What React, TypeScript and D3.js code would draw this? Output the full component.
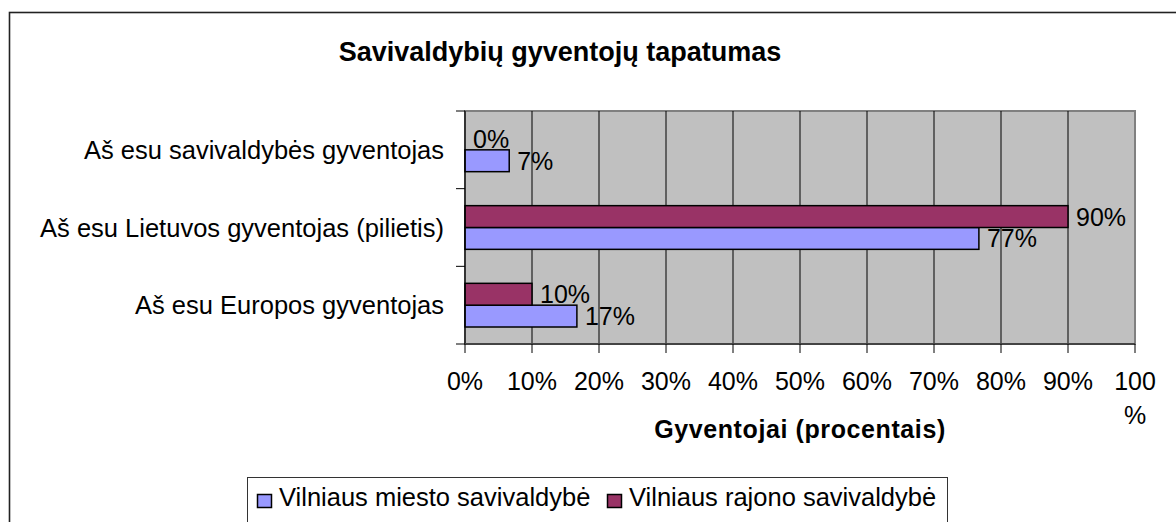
import React from "react";
import * as d3 from "d3";

const categories = [
  "Aš esu savivaldybės gyventojas",
  "Aš esu Lietuvos gyventojas (pilietis)",
  "Aš esu Europos gyventojas",
];
const seriesNames = ["Vilniaus miesto savivaldybė", "Vilniaus rajono savivaldybė"];
const miestoValues = [6.6, 76.7, 16.7];
const rajonoValues = [0, 90, 10];
const tickLabels = ["0%", "10%", "20%", "30%", "40%", "50%", "60%", "70%", "80%", "90%", "100 %"];
const title = "Savivaldybių gyventojų tapatumas";
const axisTitle = "Gyventojai (procentais)";

const colors: Record<string, string> = {
  "Vilniaus miesto savivaldybė": "#9999FF",
  "Vilniaus rajono savivaldybė": "#993366",
};

const FONT = "'Liberation Sans', Arial, sans-serif";

export default function App() {
  const W = 1176;
  const H = 522;
  const plot = { left: 465, right: 1135, top: 111, bottom: 344 };

  const x = d3.scaleLinear().domain([0, 100]).range([plot.left, plot.right]);
  const y = d3
    .scaleBand<string>()
    .domain(categories)
    .range([plot.top, plot.bottom])
    .paddingInner(0.4376)
    .paddingOuter(0.2188);
  // Excel order: second series on top within each group
  const sub = d3
    .scaleBand<string>()
    .domain([seriesNames[1], seriesNames[0]])
    .range([0, y.bandwidth()]);

  const seriesData: Record<string, number[]> = {
    [seriesNames[0]]: miestoValues,
    [seriesNames[1]]: rajonoValues,
  };

  const ticks = x.ticks(10);
  const step = y.step();
  const catTicks = d3.range(categories.length + 1).map((i) => plot.top + i * step);

  return (
    <svg
      width={W}
      height={H}
      style={{ position: "fixed", left: 0, top: 0, display: "block", background: "#fff" }}
      fontFamily={FONT}
    >
      <rect x={0} y={0} width={W} height={H} fill="#fff" />
      {/* outer chart frame */}
      <rect x={9.5} y={12.5} width={1300} height={700} fill="#fff" stroke="#222" strokeWidth={1.6} />

      <text x={560} y={61} textAnchor="middle" fontSize={27} fontWeight="bold" fill="#000">
        {title}
      </text>

      {/* plot area */}
      <rect
        x={plot.left}
        y={plot.top}
        width={plot.right - plot.left}
        height={plot.bottom - plot.top}
        fill="#C0C0C0"
        stroke="#808080"
        strokeWidth={2}
      />
      {ticks
        .filter((t) => t > 0 && t < 100)
        .map((t) => (
          <line key={"g" + t} x1={x(t)} x2={x(t)} y1={plot.top} y2={plot.bottom} stroke="#000" strokeWidth={1} />
        ))}

      {/* bars */}
      {categories.map((c, ci) =>
        seriesNames.map((s) => {
          const v = seriesData[s][ci];
          const by = (y(c) as number) + (sub(s) as number);
          const bh = sub.bandwidth();
          return (
            <g key={c + s}>
              <rect
                x={x(0)}
                y={by}
                width={Math.max(0, x(v) - x(0))}
                height={bh}
                fill={colors[s]}
                stroke="#000"
                strokeWidth={1.5}
              />
              <text
                x={x(v) + 8}
                y={by + bh / 2}
                dy="0.36em"
                fontSize={25}
                fill="#000"
              >
                {Math.round(v) + "%"}
              </text>
            </g>
          );
        })
      )}

      {/* axes */}
      <line x1={plot.left} x2={plot.left} y1={plot.top} y2={plot.bottom} stroke="#000" strokeWidth={1.2} />
      <line x1={plot.left} x2={plot.right} y1={plot.bottom} y2={plot.bottom} stroke="#444" strokeWidth={2} />
      {catTicks.map((ty, i) => (
        <line key={"ct" + i} x1={plot.left - 9} x2={plot.left} y1={ty} y2={ty} stroke="#000" strokeWidth={1} />
      ))}
      {ticks.map((t) => (
        <line key={"xt" + t} x1={x(t)} x2={x(t)} y1={plot.bottom} y2={plot.bottom + 9} stroke="#000" strokeWidth={1} />
      ))}
      {ticks.map((t, i) => {
        const lines = tickLabels[i].split(" ");
        return (
          <text key={"xl" + t} x={x(t)} y={390} textAnchor="middle" fontSize={25} fill="#000">
            {lines.map((l, li) => (
              <tspan key={li} x={x(t)} dy={li === 0 ? 0 : 34}>
                {l}
              </tspan>
            ))}
          </text>
        );
      })}

      {categories.map((c) => (
        <text
          key={"cl" + c}
          x={444}
          y={(y(c) as number) + y.bandwidth() / 2}
          dy="0.36em"
          textAnchor="end"
          fontSize={25.5}
          fill="#000"
        >
          {c}
        </text>
      ))}

      <text
        x={(plot.left + plot.right) / 2}
        y={438}
        textAnchor="middle"
        fontSize={25}
        letterSpacing={0.6}
        fontWeight="bold"
        fill="#000"
      >
        {axisTitle}
      </text>

      {/* legend */}
      <rect x={247.5} y={477.5} width={700} height={80} fill="#fff" stroke="#333" strokeWidth={1} />
      {seriesNames.map((s, i) => {
        const lx = i === 0 ? 257 : 607;
        return (
          <g key={"lg" + s}>
            <rect x={lx + 0.5} y={494.5} width={14} height={13} fill={colors[s]} stroke="#000" strokeWidth={1.5} />
            <text x={lx + 22} y={506} fontSize={25.5} fill="#000">
              {s}
            </text>
          </g>
        );
      })}
    </svg>
  );
}
